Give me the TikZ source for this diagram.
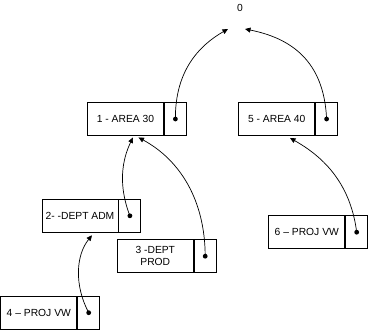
\documentclass[tikz,border=0pt]{standalone}
\usepackage{fontspec}
\setmainfont{Liberation Sans}
\usetikzlibrary{arrows.meta}
\begin{document}
\begin{tikzpicture}[x=1pt,y=-1pt,
  mainbox/.style={draw, line width=0.9pt, minimum width=76pt, minimum height=33pt, inner sep=0pt, align=center, font=\fontsize{10.3}{12}\selectfont},
  cellbox/.style={draw, line width=0.9pt, minimum width=22pt, minimum height=33pt, inner sep=0pt, anchor=west},
  ptr/.style={line width=0.7pt, -{Triangle[length=5.5pt,width=5pt]}},
  dotmark/.style={fill=black}]
\useasboundingbox (0,0) rectangle (368,330);
% root label
\node[font=\fontsize{10.3}{12}\selectfont] (zero) at (240,8) {0};
\coordinate (tl) at (228,29);
\coordinate (tr) at (245,29);
% boxes
\node[mainbox] (b1) at (125.5,119) {1 - AREA 30};
\node[cellbox] (c1) at (b1.east) {};
\node[mainbox] (b5) at (276.7,119) {5 - AREA 40};
\node[cellbox] (c5) at (b5.east) {};
\node[mainbox] (b2) at (80,215.8) {2- -DEPT ADM};
\node[cellbox] (c2) at (b2.east) {};
\node[mainbox] (b3) at (155.3,256.2) {3 -DEPT\\PROD};
\node[cellbox] (c3) at (b3.east) {};
\node[mainbox] (b4) at (38.8,312.7) {4 – PROJ VW};
\node[cellbox] (c4) at (b4.east) {};
\node[mainbox] (b6) at (306.8,232.2) {6 – PROJ VW};
\node[cellbox] (c6) at (b6.east) {};
% dots
\foreach \c in {c1,c2,c3,c4,c5,c6} \fill[dotmark] (\c.center) circle (2.4pt);
% targets
\coordinate (t1a) at ([xshift=7.5pt,yshift=-1.5pt]b1.south);
\coordinate (t1b) at ([xshift=13pt,yshift=-1.5pt]b1.south);
\coordinate (t2) at ([xshift=12pt,yshift=-2.5pt]b2.south);
\coordinate (t5) at ([xshift=13.3pt,yshift=-2pt]b5.south);
% pointers
\draw[ptr] (c1.center) .. controls (175,70) and (200,45) .. (tl);
\draw[ptr] (c5.center) .. controls (324,60) and (290,38) .. (tr);
\draw[ptr] (c2.center) .. controls (118,185) and (122,160) .. (t1a);
\draw[ptr] (c3.center) .. controls (205,200) and (180,160) .. (t1b);
\draw[ptr] (c4.center) .. controls (74,285) and (76,255) .. (t2);
\draw[ptr] (c6.center) .. controls (350,180) and (320,155) .. (t5);
\end{tikzpicture}
\end{document}
